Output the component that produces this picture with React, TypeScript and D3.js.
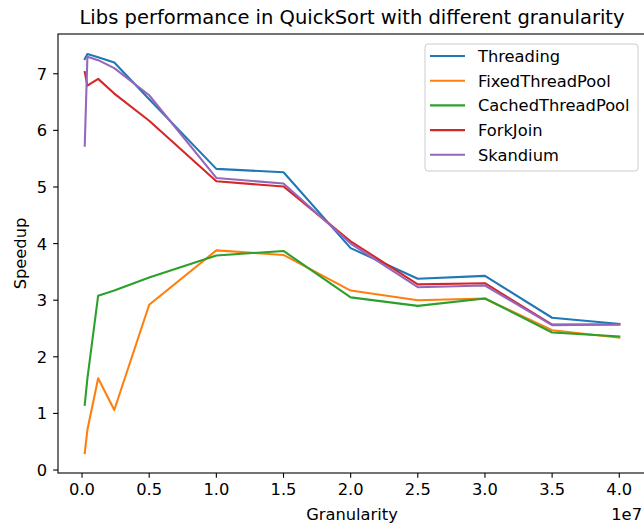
import React from "react";
import { scaleLinear, line } from "d3";

// granularity values (x) and speedup per library
const granularity = [200000, 400000, 1200000, 2400000, 5000000, 10000000, 15000000, 20000000, 25000000, 30000000, 35000000, 40000000];
const threading = [7.26, 7.35, 7.29, 7.2, 6.55, 5.32, 5.26, 3.92, 3.38, 3.43, 2.69, 2.58];
const fixedThreadPool = [0.3, 0.71, 1.62, 1.06, 2.92, 3.88, 3.8, 3.17, 3.0, 3.03, 2.47, 2.34];
const cachedThreadPool = [1.15, 1.62, 3.08, 3.17, 3.4, 3.79, 3.87, 3.05, 2.9, 3.03, 2.43, 2.36];
const forkJoin = [7.03, 6.79, 6.91, 6.65, 6.17, 5.1, 5.01, 4.04, 3.28, 3.3, 2.57, 2.57];
const skandium = [5.73, 7.3, 7.24, 7.1, 6.62, 5.16, 5.06, 4.0, 3.23, 3.26, 2.56, 2.57];

const seriesNames = ["Threading", "FixedThreadPool", "CachedThreadPool", "ForkJoin", "Skandium"];
const seriesValues = [threading, fixedThreadPool, cachedThreadPool, forkJoin, skandium];
const colors = ["#1f77b4", "#ff7f0e", "#2ca02c", "#d62728", "#9467bd"];

const xTicks = [0, 5e6, 1e7, 1.5e7, 2e7, 2.5e7, 3e7, 3.5e7, 4e7];
const yTicks = [0, 1, 2, 3, 4, 5, 6, 7];

const W = 644;
const H = 524;
const left = 58;
const right = 646;
const top = 34;
const bottom = 473;
const font = "'DejaVu Sans', sans-serif";
const fs = 16.3;
const titleFs = 19.5;

export default function App() {
  // matplotlib-style 5% margins
  const xMin = Math.min(...granularity);
  const xMax = Math.max(...granularity);
  const xPad = (xMax - xMin) * 0.05;
  const all = seriesValues.flat();
  const yMin = Math.min(...all);
  const yMax = Math.max(...all);
  const yPad = (yMax - yMin) * 0.05;

  const xScale = scaleLinear().domain([xMin - xPad, xMax + xPad]).range([left, right]);
  const yScale = scaleLinear().domain([yMin - yPad, yMax + yPad]).range([bottom, top]);

  const makeLine = line<number>()
    .x((_, i) => xScale(granularity[i]))
    .y((d) => yScale(d));

  const tickLen = 4.86;

  return (
    <svg width={W} height={H} style={{ position: "absolute", left: 0, top: 0, background: "#fff" }} fontFamily={font}>
      <rect width={W} height={H} fill="#fff" />
      <text x={(left + right) / 2} y={24} textAnchor="middle" fontSize={titleFs}>
        Libs performance in QuickSort with different granularity
      </text>

      {seriesValues.map((vals, i) => (
        <path key={seriesNames[i]} d={makeLine(vals) || ""} fill="none" stroke={colors[i]} strokeWidth={2.08} strokeLinejoin="round" strokeLinecap="square" />
      ))}

      {/* spines */}
      <rect x={left} y={top} width={right - left} height={bottom - top} fill="none" stroke="#000" strokeWidth={1.1} />

      {/* x axis */}
      {xTicks.map((t) => (
        <g key={t}>
          <line x1={xScale(t)} x2={xScale(t)} y1={bottom} y2={bottom + tickLen} stroke="#000" strokeWidth={1.1} />
          <text x={xScale(t)} y={bottom + 22} textAnchor="middle" fontSize={fs}>
            {(t / 1e7).toFixed(1)}
          </text>
        </g>
      ))}
      <text x={642} y={520} textAnchor="end" fontSize={fs}>1e7</text>
      <text x={(left + right) / 2} y={520} textAnchor="middle" fontSize={fs}>Granularity</text>

      {/* y axis */}
      {yTicks.map((t) => (
        <g key={t}>
          <line x1={left - tickLen} x2={left} y1={yScale(t)} y2={yScale(t)} stroke="#000" strokeWidth={1.1} />
          <text x={left - 11} y={yScale(t) + 6} textAnchor="end" fontSize={fs}>
            {t}
          </text>
        </g>
      ))}
      <text transform={`translate(26,${(top + bottom) / 2}) rotate(-90)`} textAnchor="middle" fontSize={fs}>
        Speedup
      </text>

      {/* legend */}
      <rect x={425} y={44} width={213} height={127} rx={3} fill="#fff" fillOpacity={0.8} stroke="#cccccc" strokeWidth={1} />
      {seriesNames.map((name, i) => {
        const y = 56 + i * 24.7;
        return (
          <g key={name}>
            <line x1={430} x2={465} y1={y} y2={y} stroke={colors[i]} strokeWidth={2.08} />
            <text x={478} y={y + 6} fontSize={fs}>{name}</text>
          </g>
        );
      })}
    </svg>
  );
}
